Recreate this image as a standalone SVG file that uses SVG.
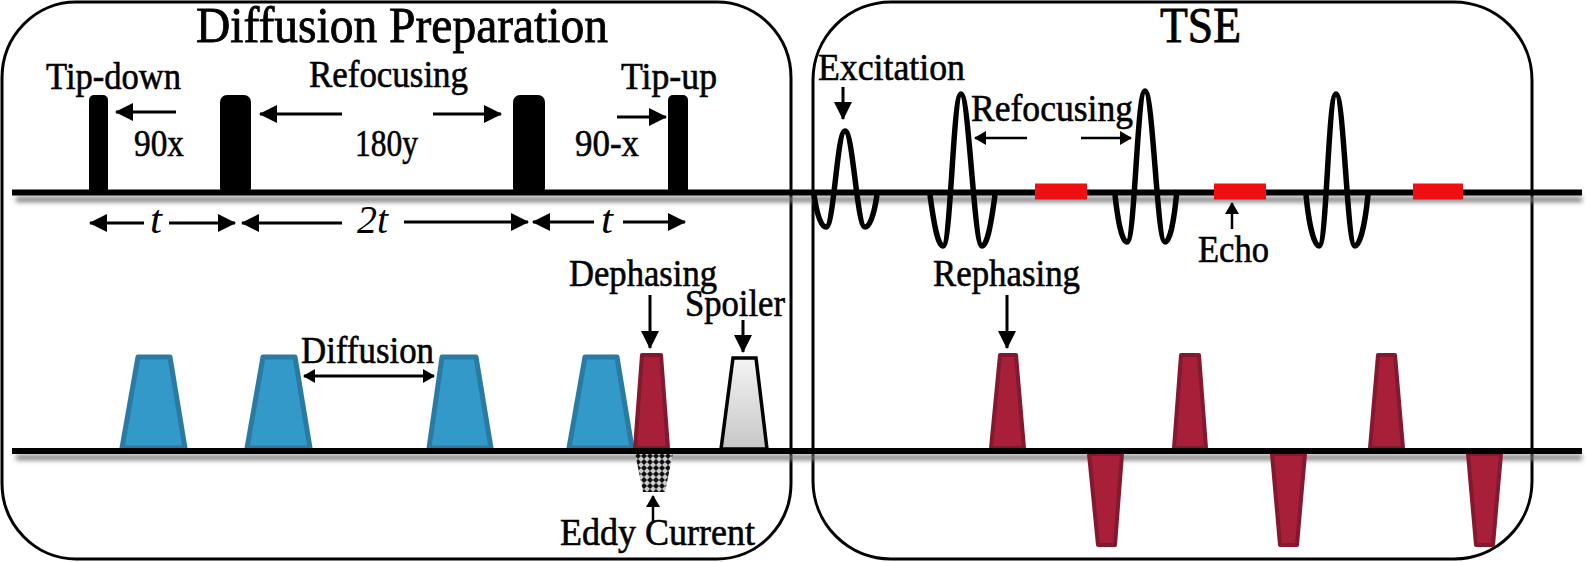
<svg xmlns="http://www.w3.org/2000/svg" width="1592" height="562" viewBox="0 0 1592 562">
<style>
text{font-family:"Liberation Serif","Times New Roman",serif;fill:#000;font-size:38px;stroke:#000;stroke-width:.6px}
.title{font-size:50px;stroke-width:.8px}
.it{font-style:italic;font-size:40px;stroke-width:0}
.panel{fill:none;stroke:#000;stroke-width:3}
.axis{fill:#000}
.shadow{fill:#777;filter:url(#blur)}
.rf{fill:#000}
.sinc{fill:none;stroke:#000;stroke-width:5.5;stroke-linejoin:round}
.echo{fill:#ee1010}
.blue{fill:#3399c9;stroke:#2a7ba3;stroke-width:5;stroke-linejoin:round}
.red{fill:#a81f3a;stroke:#84182f;stroke-width:4;stroke-linejoin:round}
.spoil{fill:url(#gray);stroke:#000;stroke-width:3.5;stroke-linejoin:miter}
.eddy{fill:url(#dots)}
.a{fill:none;stroke:#000;stroke-width:3;marker-end:url(#head)}
.a2{fill:none;stroke:#000;stroke-width:2.5;marker-end:url(#headS)}
.a3{fill:none;stroke:#000;stroke-width:3;marker-start:url(#headSr);marker-end:url(#headS)}
</style>
<defs>
<filter id="blur" x="-5%" y="-200%" width="110%" height="500%"><feGaussianBlur stdDeviation="2.5"/></filter>
<linearGradient id="gray" x1="0" y1="0" x2="0" y2="1"><stop offset="0" stop-color="#f4f4f4"/><stop offset="1" stop-color="#c6c6c6"/></linearGradient>
<pattern id="dots" width="6" height="6" patternUnits="userSpaceOnUse" patternTransform="translate(635 453)"><rect width="6" height="6" fill="#ccc"/><path d="M3 0L6 3L3 6L0 3Z" fill="#111"/></pattern>
<marker id="head" markerUnits="userSpaceOnUse" markerWidth="18" markerHeight="18" refX="17" refY="9" orient="auto"><path d="M0 0L18 9L0 18Z" fill="#000"/></marker>
<marker id="headS" markerUnits="userSpaceOnUse" markerWidth="12" markerHeight="14" refX="11" refY="7" orient="auto"><path d="M0 0L12 7L0 14Z" fill="#000"/></marker>
<marker id="headSr" markerUnits="userSpaceOnUse" markerWidth="12" markerHeight="14" refX="1" refY="7" orient="auto"><path d="M12 0L0 7L12 14Z" fill="#000"/></marker>
</defs>
<rect width="1592" height="562" fill="#fff"/>

<g id="panel-diffusion"><rect class="panel" x="2" y="2" width="789" height="557" rx="74" ry="76"/></g>
<g id="panel-tse"><rect class="panel" x="813" y="2" width="719" height="557" rx="78" ry="78"/></g>

<g id="axis-shadows">
<rect class="shadow" x="16" y="197" width="1566" height="5"/>
<rect class="shadow" x="16" y="455" width="1566" height="5"/>
</g>

<g id="gradients-diffusion">
<polygon class="blue" points="122,448 138,357 170,357 185,448"/>
<polygon class="blue" points="247,448 263,357 295,357 310,448"/>
<polygon class="blue" points="429,448 442,357 476,357 491,448"/>
<polygon class="blue" points="569,448 585,357 617,357 632,448"/>
<polygon class="eddy" points="635,453 673,453 665,492 643,492"/>
<polygon class="red" points="635,448 642,355 661,355 668,448"/>
<polygon class="spoil" points="721,449 733,358 756,358 767,449"/>
</g>
<g id="gradients-tse">
<polygon class="red" points="991,448 1000,355 1016,355 1024,448"/>
<polygon class="red" points="1174,448 1181,355 1199,355 1206,448"/>
<polygon class="red" points="1370,448 1378,355 1395,355 1403,448"/>
<polygon class="red" points="1089,454 1122,454 1115,545 1098,545"/>
<polygon class="red" points="1272,454 1305,454 1297,545 1280,545"/>
<polygon class="red" points="1468,454 1501,454 1493,545 1476,545"/>
</g>

<g id="axes">
<rect class="axis" x="12" y="189.5" width="1570" height="6"/>
<rect class="axis" x="12" y="448" width="1570" height="6"/>
</g>

<g id="rf-pulses">
<rect class="rf" x="89" y="95" width="19" height="100" rx="5"/>
<rect class="rf" x="220" y="95" width="31" height="100" rx="7"/>
<rect class="rf" x="513" y="95" width="32" height="100" rx="7"/>
<rect class="rf" x="668" y="95" width="20" height="100" rx="5"/>
</g>
<g id="tse-pulses">
<path class="sinc" d="M814 195C817 215 821 227 826 227C834 227 837 131 845 131C853 131 857 227 865 227C870 227 874 215 877 195"/>
<path class="sinc" d="M930 195C934 225 938 246 943 246C951 246 953 94 961 94C969 94 974 246 982 246C987 246 991 225 995 195"/>
<path class="sinc" d="M1115 195C1118 222 1122 242 1127 242C1135 242 1137 91 1145 91C1153 91 1157 242 1165 242C1170 242 1174 222 1177 190"/>
<path class="sinc" d="M1306 195C1309 225 1314 246 1319 246C1327 246 1328 94 1336 94C1344 94 1347 246 1355 246C1360 246 1365 225 1368 195"/>
<rect class="echo" x="1035" y="183.500" width="52" height="16"/>
<rect class="echo" x="1214" y="183.500" width="52" height="16"/>
<rect class="echo" x="1413" y="183.500" width="50" height="16"/>
</g>

<g id="connectors">
<line class="a" x1="176" y1="112" x2="116" y2="112"/>
<line class="a" x1="342" y1="114" x2="260" y2="114"/>
<line class="a" x1="433" y1="114" x2="501" y2="114"/>
<line class="a" x1="617" y1="117" x2="666" y2="117"/>
<line class="a" x1="144" y1="223" x2="90" y2="223"/>
<line class="a" x1="169" y1="223" x2="235" y2="223"/>
<line class="a" x1="342" y1="223" x2="242" y2="223"/>
<line class="a" x1="404" y1="222" x2="528" y2="222"/>
<line class="a" x1="594" y1="222" x2="533" y2="222"/>
<line class="a" x1="623" y1="222" x2="685" y2="222"/>
<line class="a" x1="650" y1="295" x2="650" y2="348"/>
<line class="a" x1="743" y1="320" x2="743" y2="352"/>
<line class="a3" x1="304" y1="376" x2="434" y2="376"/>
<line class="a2" x1="653" y1="522" x2="653" y2="496"/>
<line class="a" x1="843" y1="87" x2="843" y2="119"/>
<line class="a2" x1="1027" y1="138" x2="975" y2="138"/>
<line class="a2" x1="1081" y1="138" x2="1131" y2="138"/>
<line class="a2" x1="1232" y1="229" x2="1232" y2="203"/>
<line class="a" x1="1007" y1="295" x2="1007" y2="348"/>
</g>

<g id="labels">
<text class="title" x="196" y="42" textLength="412" lengthAdjust="spacingAndGlyphs">Diffusion Preparation</text>
<text class="title" x="1160" y="42" textLength="81" lengthAdjust="spacingAndGlyphs">TSE</text>
<text x="46" y="89" textLength="135" lengthAdjust="spacingAndGlyphs">Tip-down</text>
<text x="309" y="87" textLength="159" lengthAdjust="spacingAndGlyphs">Refocusing</text>
<text x="621" y="89" textLength="96" lengthAdjust="spacingAndGlyphs">Tip-up</text>
<text x="134" y="156" textLength="50" lengthAdjust="spacingAndGlyphs">90x</text>
<text x="355" y="156" textLength="63" lengthAdjust="spacingAndGlyphs">180y</text>
<text x="575" y="156" textLength="64" lengthAdjust="spacingAndGlyphs">90-x</text>
<text class="it" x="150" y="233" textLength="12" lengthAdjust="spacingAndGlyphs">t</text>
<text class="it" x="357" y="233" textLength="31" lengthAdjust="spacingAndGlyphs">2t</text>
<text class="it" x="601" y="233" textLength="12" lengthAdjust="spacingAndGlyphs">t</text>
<text x="569" y="286" textLength="148" lengthAdjust="spacingAndGlyphs">Dephasing</text>
<text x="685" y="316" textLength="100" lengthAdjust="spacingAndGlyphs">Spoiler</text>
<text x="301" y="363" textLength="133" lengthAdjust="spacingAndGlyphs">Diffusion</text>
<text x="560" y="545" textLength="195" lengthAdjust="spacingAndGlyphs">Eddy Current</text>
<text x="818" y="80" textLength="147" lengthAdjust="spacingAndGlyphs">Excitation</text>
<text x="971" y="121" textLength="162" lengthAdjust="spacingAndGlyphs">Refocusing</text>
<text x="1198" y="262" textLength="71" lengthAdjust="spacingAndGlyphs">Echo</text>
<text x="933" y="286" textLength="147" lengthAdjust="spacingAndGlyphs">Rephasing</text>
</g>
</svg>
